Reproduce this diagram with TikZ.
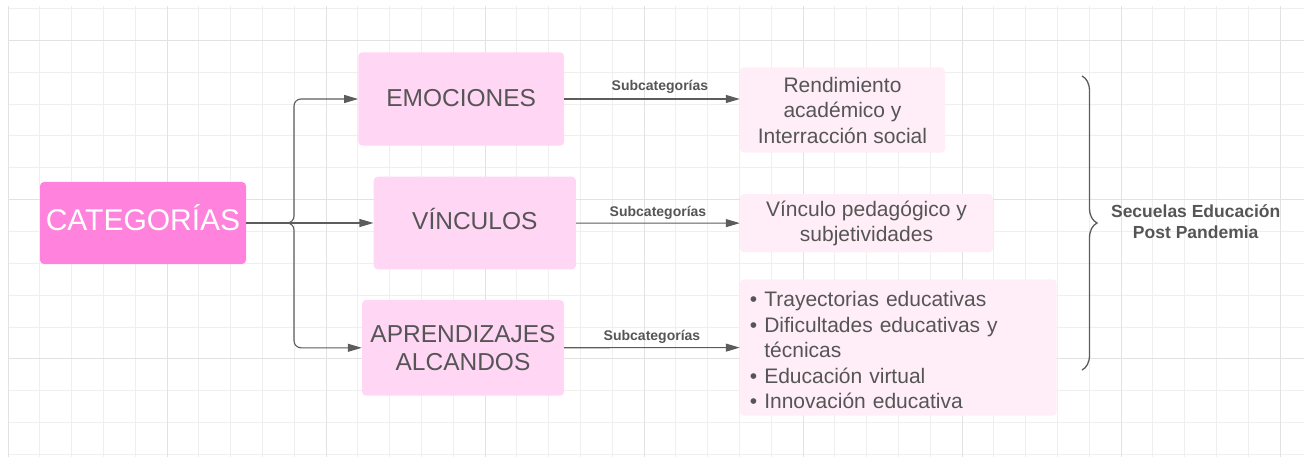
\documentclass[tikz,border=0pt]{standalone}
\usepackage{fontspec}
\setmainfont{Liberation Sans}
\usetikzlibrary{arrows.meta,decorations.pathreplacing}
\definecolor{catpink}{HTML}{FF83DC}
\definecolor{boxpink}{HTML}{FFD6F4}
\definecolor{subpink}{HTML}{FFEEF8}
\definecolor{textgray}{HTML}{555555}
\definecolor{linegray}{HTML}{5C5C5C}
\definecolor{gridminor}{HTML}{EFEFEF}
\definecolor{gridmajor}{HTML}{E2E2E2}
\newcommand{\figurescale}{1pt}
\newcommand{\boxfont}[2]{\fontsize{#1}{#2}\selectfont}
\tikzset{
	catbox/.style={fill=catpink, rounded corners=4pt, text=white, font=\boxfont{30}{35}, inner sep=0pt},
	mainbox/.style={fill=boxpink, rounded corners=4pt, text=textgray, font=\boxfont{24.5}{28.3}, align=center, inner sep=0pt},
	subbox/.style={fill=subpink, rounded corners=4pt, text=textgray, font=\boxfont{21}{25.5}, inner sep=0pt},
	conn/.style={draw=linegray, line width=1.1pt, -{Triangle[length=14pt,width=8pt]}},
	sublabel/.style={text=textgray, font=\bfseries\boxfont{14}{16}, above=3.5pt, inner sep=0pt},
}

\begin{document}
\begin{tikzpicture}[x=\figurescale,y=-\figurescale]
	\useasboundingbox (0,0) rectangle (1304,457);
	\foreach \k in {0,...,40}
		\draw[gridminor, line width=1pt] (8+31.8*\k,6) -- (8+31.8*\k,457);
	\foreach \k in {0,...,14}
		\draw[gridminor, line width=1pt] (8,8.6+31.85*\k) -- (1304,8.6+31.85*\k);
	\foreach \k in {0,5,...,40}
		\draw[gridmajor, line width=1pt] (8+31.8*\k,6) -- (8+31.8*\k,457);
	\foreach \k in {1,6,11}
		\draw[gridmajor, line width=1pt] (8,8.6+31.85*\k) -- (1304,8.6+31.85*\k);

	\node[catbox, text height=21.5pt, text depth=6.6pt, minimum width=206pt, minimum height=82pt] (categorias) at (143,223) {CATEGORÍAS};
	\node[mainbox, text height=17.5pt, text depth=3pt, minimum width=205.7pt, minimum height=93.4pt] (emociones) at (461.2,99) {EMOCIONES};
	\node[mainbox, text height=17.5pt, text depth=3.6pt, minimum width=202.3pt, minimum height=92.6pt] (vinculos) at (474.8,223) {VÍNCULOS};
	\node[mainbox, minimum width=202pt, minimum height=95.7pt] (aprendizajes) at (463,347.8) {APRENDIZAJES\\ALCANDOS};

	\node[subbox, align=center, minimum width=205pt, minimum height=85.4pt] (rendimiento) at (842.5,110) {Rendimiento\\académico y\\Interracción social};
	\node[subbox, align=center, minimum width=253pt, minimum height=58.3pt] (vinculo) at (866.5,223.2) {Vínculo pedagógico y\\subjetividades};
	\node[subbox, align=left, text width=296.7pt, inner xsep=10pt, minimum height=136.4pt] (trayectorias) at (898.3,347.5) {\rule{0pt}{20.7pt}• Trayectorias educativas\\• Dificultades educativas y\\\hphantom{• }técnicas\\• Educación virtual\\• Innovación educativa};

	\coordinate (split) at (294,223);
	\draw[conn] (categorias) -- (vinculos);
	\draw[conn, rounded corners=7pt] (categorias.east) -- (split) |- (emociones.west);
	\draw[conn, rounded corners=7pt] (categorias.east) -- (split) |- (aprendizajes.west);

	\draw[conn] (emociones.east) -- (emociones.east -| rendimiento.west) node[sublabel, above=1.5pt, pos=0.545] {Subcategorías};
	\draw[conn] (vinculos) -- (vinculo) node[sublabel, midway] {Subcategorías};
	\draw[conn] (aprendizajes) -- (trayectorias) node[sublabel, midway] {Subcategorías};

	\coordinate (bracetop) at (1082,76);
	\coordinate (bracebot) at (1082,370);
	\draw[linegray, line width=1.3pt, decorate, decoration={brace, amplitude=15pt}] (bracetop) -- (bracebot);
	\node[text=textgray, font=\bfseries\boxfont{17.5}{21}, align=center] (secuelas) at (1195.7,221.2) {Secuelas Educación\\Post Pandemia};
\end{tikzpicture}
\end{document}
